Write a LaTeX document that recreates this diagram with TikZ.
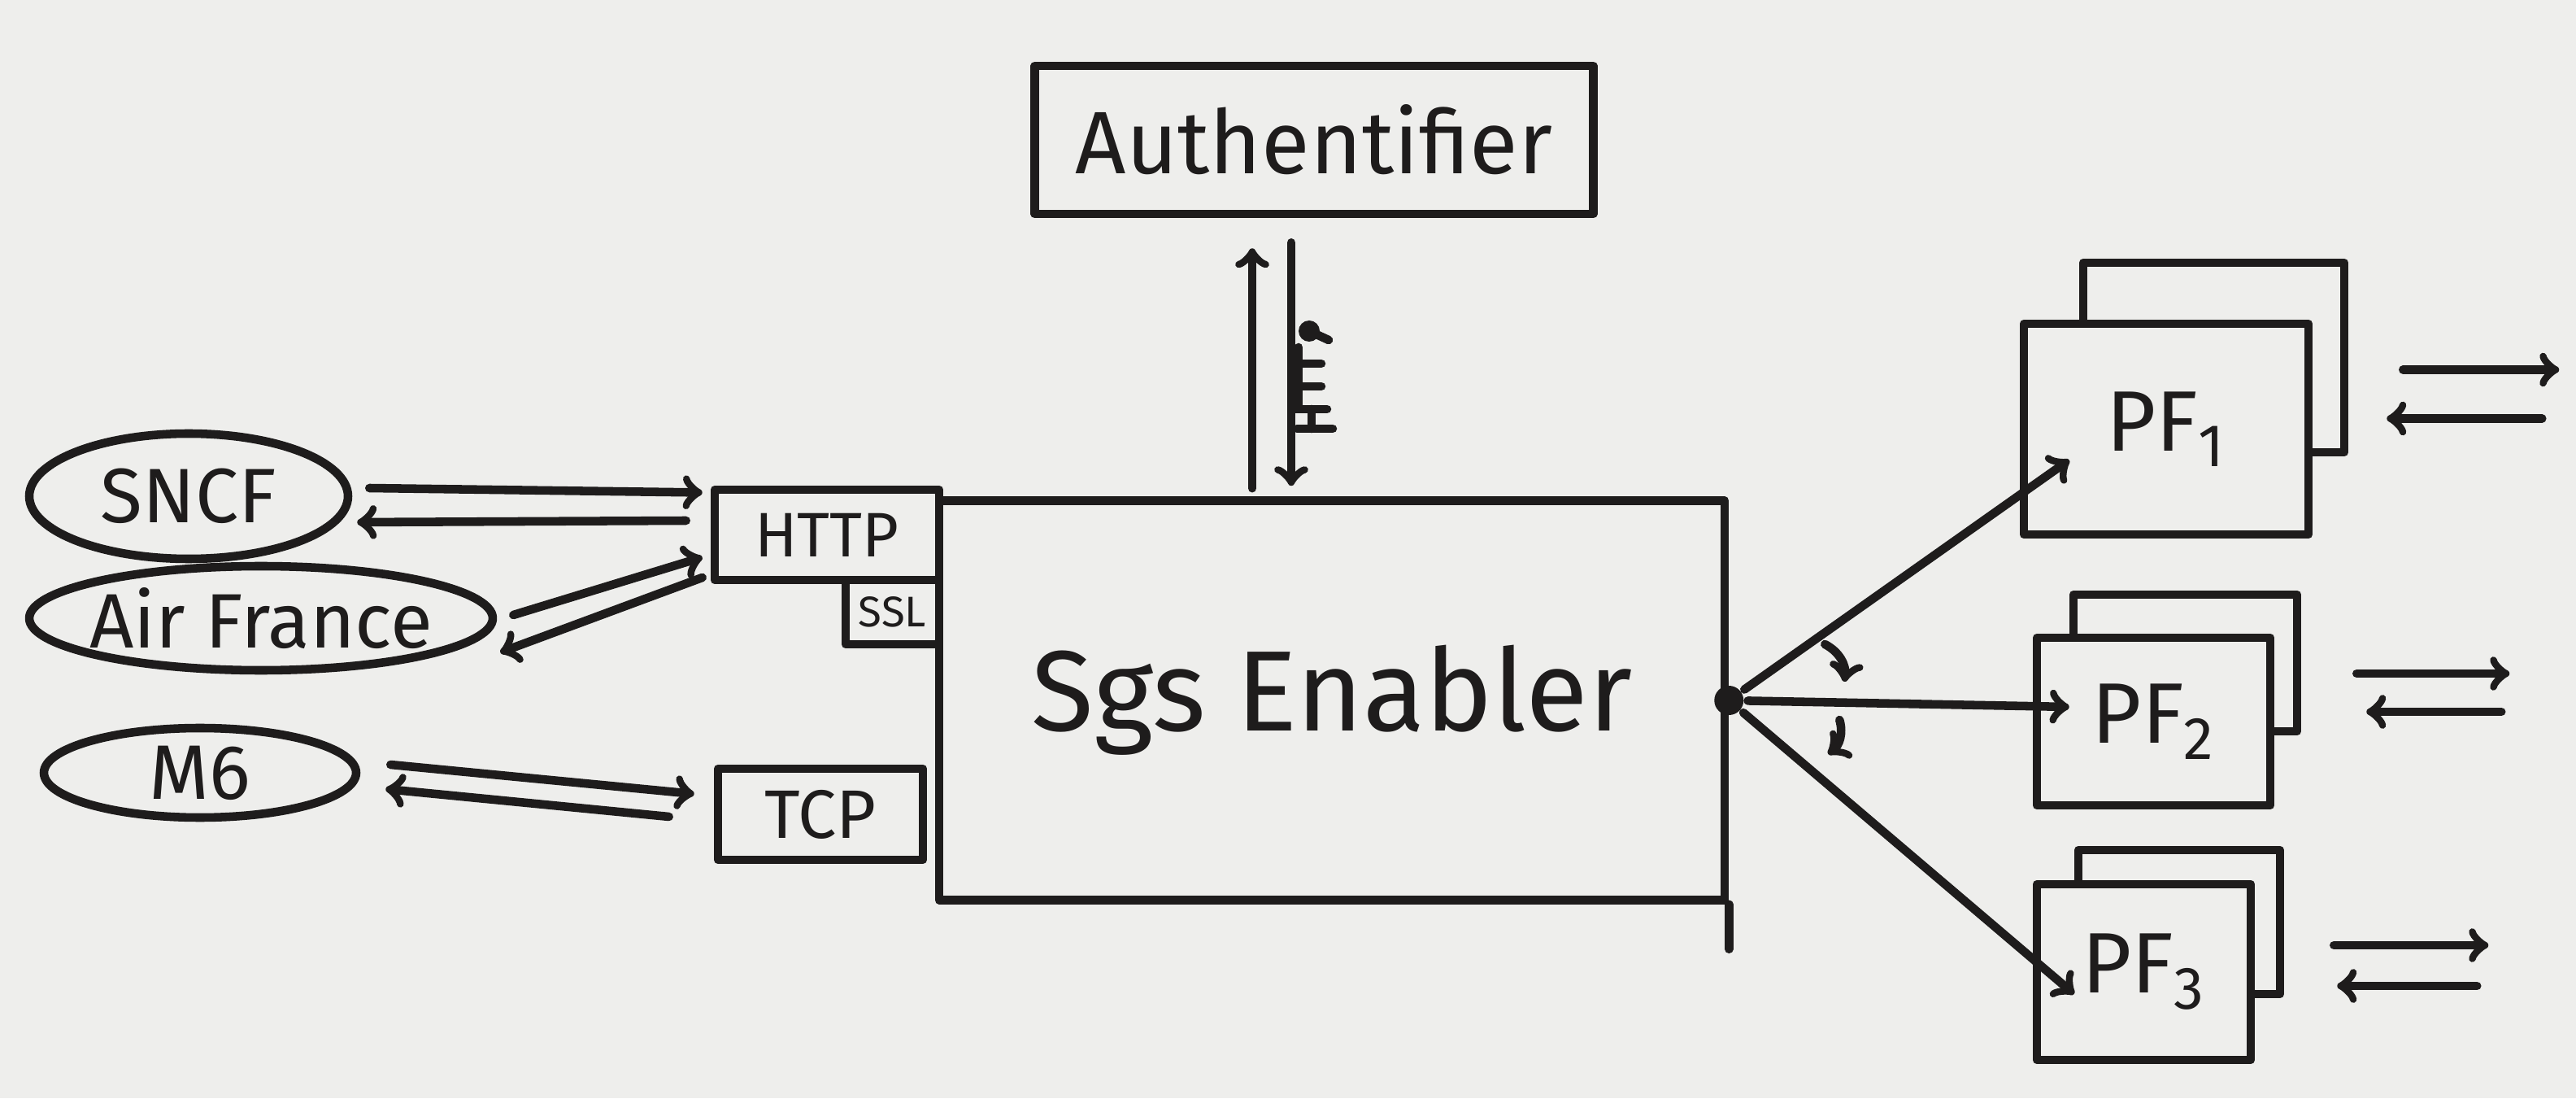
\documentclass[tikz,border=0pt]{standalone}
\usepackage{fontspec}
\setmainfont{Fira Sans}
\usetikzlibrary{shapes.geometric}
\definecolor{paper}{RGB}{238,238,236}
\definecolor{ink}{RGB}{30,28,28}

\begin{document}
\begin{tikzpicture}[color=ink, line width=3pt, line cap=round, line join=round,
        box/.style={draw, rectangle, inner sep=0pt},
        client/.style={draw, ellipse, inner sep=0pt},
        clientlabel/.style={font=\fontsize{27}{27}\selectfont, inner sep=0pt}]
        \fill[paper] (0,0) rectangle (31.68,13.5);
        \useasboundingbox (0,0) rectangle (31.68,13.5);

        \node[box, minimum width=6.87cm, minimum height=1.82cm, font=\fontsize{31}{31}\selectfont] (auth) at (16.16,11.78) {Authentifier};
        \node[box, minimum width=9.66cm, minimum height=4.91cm, font=\fontsize{40}{40}\selectfont] (enabler) at (16.38,4.89) {Sgs Enabler};
        \node[box, minimum width=2.76cm, minimum height=1.11cm, font=\fontsize{22}{22}\selectfont] (http) at (10.17,6.925) {HTTP};
        \node[box, minimum width=1.15cm, minimum height=0.79cm, font=\fontsize{15}{15}\selectfont] (ssl) at (10.975,5.975) {SSL};
        \node[box, minimum width=2.52cm, minimum height=1.12cm, font=\fontsize{24}{24}\selectfont] (tcp) at (10.09,3.49) {TCP};
        \draw (enabler.south east) -- ([yshift=-0.55cm]enabler.south east);

        \node[client, minimum width=3.92cm, minimum height=1.54cm, label={[clientlabel]center:SNCF}] (sncf) at (2.32,7.40) {};
        \node[client, minimum width=5.70cm, minimum height=1.28cm, label={[clientlabel]center:Air France}] (airfrance) at (3.21,5.90) {};
        \node[client, minimum width=3.84cm, minimum height=1.10cm, label={[clientlabel]center:M6}] (m6) at (2.46,4.00) {};

        \draw[->] ([shift={(0.21,0.10)}]sncf.east) -- ([shift={(-0.10,0.52)}]http.west);
        \draw[->] ([shift={(-0.30,0.175)}]http.west) -- ([shift={(0.06,-0.32)}]sncf.east);
        \draw[->] ([shift={(0.20,0.04)}]airfrance.east) -- ([shift={(-0.10,-0.275)}]http.west);
        \draw[->] ([shift={(-0.10,-0.525)}]http.west) -- ([shift={(0.04,-0.42)}]airfrance.east);
        \draw[->] ([shift={(0.37,0.10)}]m6.east) -- ([shift={(-0.24,0.25)}]tcp.west);
        \draw[->] ([shift={(-0.55,-0.03)}]tcp.west) -- ([shift={(0.31,-0.20)}]m6.east);

        \draw[->] ([shift={(-0.98,0.10)}]enabler.north) -- ([shift={(-0.76,-0.37)}]auth.south);
        \draw[->] ([shift={(-0.28,-0.30)}]auth.south) -- ([shift={(-0.50,0.13)}]enabler.north);
        \fill (16.10,9.43) circle (0.13);
        \draw (16.10,9.43) -- (16.34,9.32);
        \draw (15.97,9.23) -- (15.97,8.50);
        \draw (15.97,9.03) -- (16.25,9.03);
        \draw (15.97,8.75) -- (16.25,8.75);
        \draw (15.93,8.47) -- (16.32,8.47);
        \draw (16.13,8.47) -- (16.13,8.23);
        \draw (15.95,8.23) -- (16.39,8.23);

        \draw (25.62,7.94) rectangle (28.83,10.27);
        \draw (25.50,4.51) rectangle (28.25,6.19);
        \draw (25.56,1.28) rectangle (28.04,3.05);
        \node[box, fill=paper, minimum width=3.50cm, minimum height=2.59cm, font=\fontsize{30}{30}\selectfont] (pf1) at (26.64,8.225) {PF\textsubscript{1}};
        \node[box, fill=paper, minimum width=2.87cm, minimum height=2.06cm, font=\fontsize{30}{30}\selectfont] (pf2) at (26.485,4.63) {PF\textsubscript{2}};
        \node[box, fill=paper, minimum width=2.63cm, minimum height=2.16cm, font=\fontsize{30}{30}\selectfont] (pf3) at (26.365,1.55) {PF\textsubscript{3}};

        \node[circle, fill, inner sep=0pt, minimum size=0.36cm] (hub) at (enabler.east) {};
        \draw[->] (hub) -- ([shift={(0.61,-0.38)}]pf1.west);
        \draw[->] (hub) -- ([shift={(0.45,0.18)}]pf2.west);
        \draw[->] (hub) -- ([shift={(0.51,-0.27)}]pf3.west);
        \draw[->] ([shift={(1.18,0.69)}]hub.center) to[bend left=35] ([shift={(1.42,0.23)}]hub.center);
        \draw[->] ([shift={(1.36,-0.24)}]hub.center) to[bend left=35] ([shift={(1.22,-0.66)}]hub.center);

        \draw[->] ([shift={(1.11,0.73)}]pf1.east) -- ([shift={(3.03,0.73)}]pf1.east);
        \draw[->] ([shift={(2.82,0.13)}]pf1.east) -- ([shift={(0.91,0.13)}]pf1.east);
        \draw[->] ([shift={(1.01,0.59)}]pf2.east) -- ([shift={(2.89,0.59)}]pf2.east);
        \draw[->] ([shift={(2.79,0.12)}]pf2.east) -- ([shift={(1.13,0.12)}]pf2.east);
        \draw[->] ([shift={(0.97,0.33)}]pf3.east) -- ([shift={(2.87,0.33)}]pf3.east);
        \draw[->] ([shift={(2.73,-0.17)}]pf3.east) -- ([shift={(1.01,-0.17)}]pf3.east);
    \end{tikzpicture}
\end{document}
